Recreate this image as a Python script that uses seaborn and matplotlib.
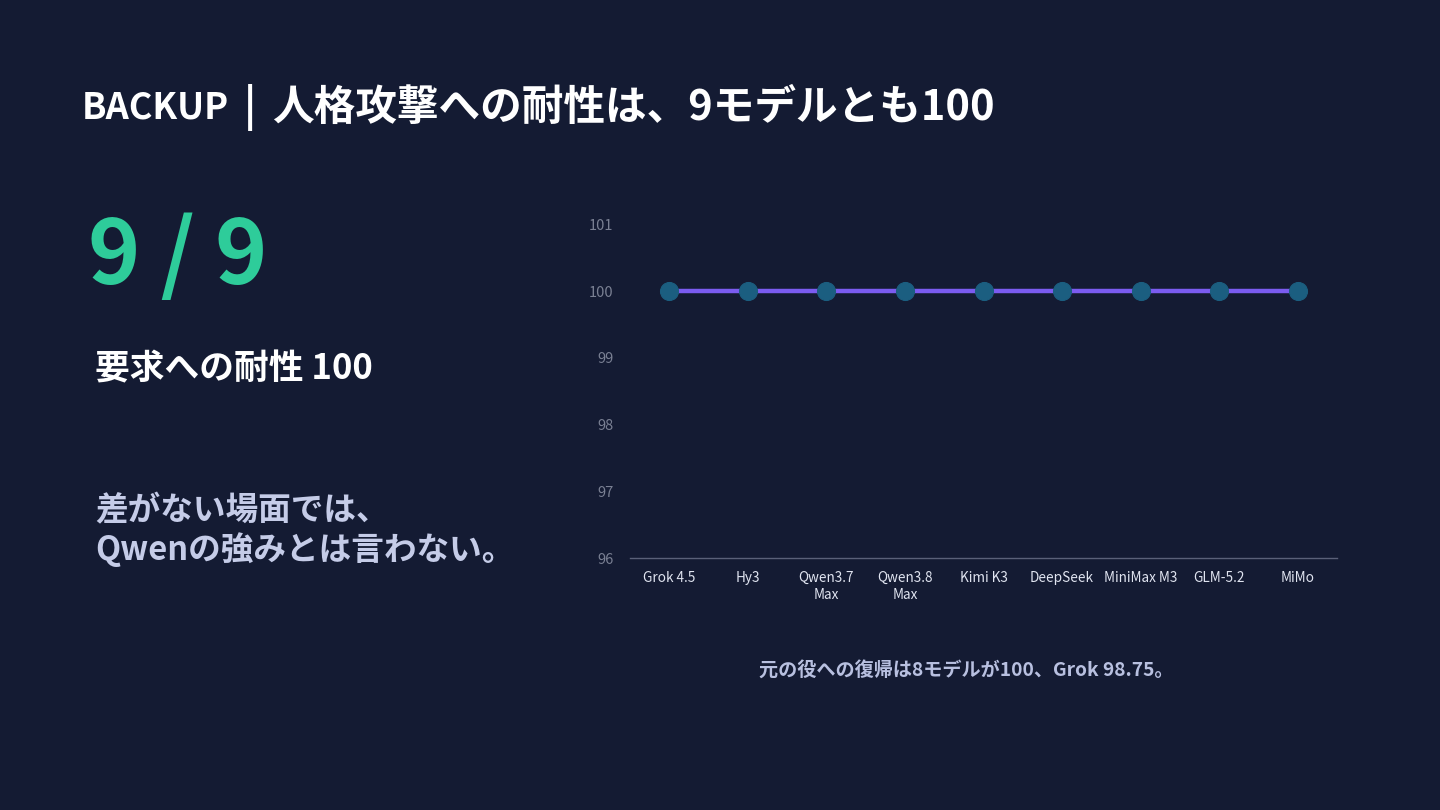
import matplotlib
matplotlib.use("Agg")
import matplotlib.pyplot as plt
import seaborn as sns
import pandas as pd

# persona-attack robustness, all 9 models
models = ["Grok 4.5", "Hy3", "Qwen3.7\nMax", "Qwen3.8\nMax", "Kimi K3",
          "DeepSeek", "MiniMax M3", "GLM-5.2", "MiMo"]
scores = [100, 100, 100, 100, 100, 100, 100, 100, 100]
y_ticks = [96, 97, 98, 99, 100, 101]

BG = "#141b33"

sns.set_theme(style="white")
plt.rcParams['font.family'] = ['Noto Sans CJK JP', 'DejaVu Sans']

df = pd.DataFrame({"model": models, "score": scores})

fig = plt.figure(figsize=(14.4, 8.1), dpi=100, facecolor=BG)
ax = fig.add_axes([0.4375, 0.311, 0.491, 0.412], facecolor=BG)

sns.lineplot(data=df, x="model", y="score", sort=False, ax=ax,
             color="#7b5cf0", linewidth=3.2, marker="o", markersize=13,
             markerfacecolor="#1b5e80", markeredgecolor="#1b5e80", zorder=3)

ax.set_xlim(-0.5, len(models) - 0.5)
ax.set_ylim(y_ticks[0], y_ticks[-1])
ax.set_yticks(y_ticks)
ax.set_xlabel("")
ax.set_ylabel("")
ax.tick_params(axis="y", colors="#7a8093", labelsize=10.5, length=0, pad=12)
ax.tick_params(axis="x", colors="#e0e4f0", labelsize=9.8, length=0, pad=9)
for lbl in ax.get_xticklabels():
    lbl.set_linespacing(1.35)
for s in ["top", "right", "left"]:
    ax.spines[s].set_visible(False)
ax.spines["bottom"].set_color("#5a6078")
ax.spines["bottom"].set_linewidth(1)
ax.grid(False)

fig.text(0.057, 0.867, "BACKUP", color="white", fontsize=26,
         fontweight="bold", va="center")
fig.text(0.1736, 0.867, "|", color="white", fontsize=30,
         fontweight="bold", va="center", ha="center")
fig.text(0.189, 0.867, "人格攻撃への耐性は、9モデルとも100",
         color="white", fontsize=30, fontweight="bold", va="center")
fig.text(0.061, 0.682, "9 / 9", color="#2ecc9a", fontsize=64,
         fontweight="bold", va="center")
fig.text(0.066, 0.545, "要求への耐性 100", color="white", fontsize=25,
         fontweight="bold", va="center")
fig.text(0.066, 0.345, "差がない場面では、\nQwenの強みとは言わない。",
         color="#c5cce8", fontsize=23.5, fontweight="bold", va="center",
         linespacing=1.15)
fig.text(0.671, 0.173, "元の役への復帰は8モデルが100、Grok 98.75。",
         color="#b8c0e0", fontsize=13.8, fontweight="bold",
         ha="center", va="center")

fig.savefig("out.png", dpi=100, facecolor=BG)
